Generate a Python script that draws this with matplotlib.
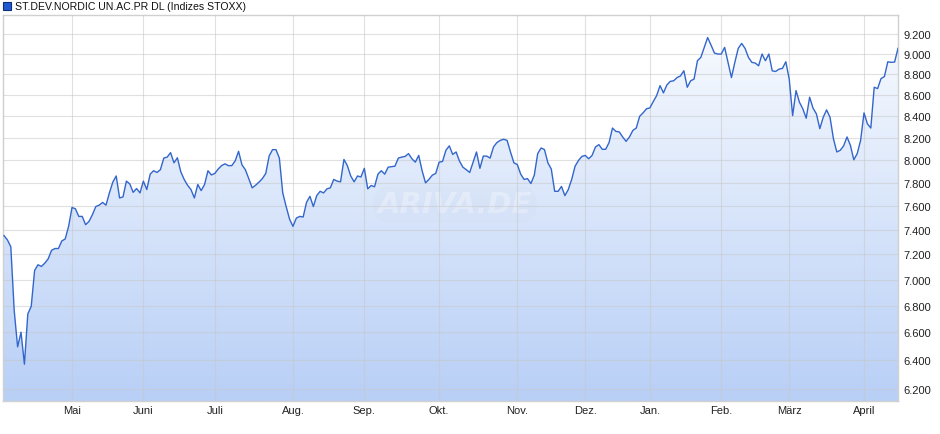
import numpy as np
import pandas as pd
import matplotlib

matplotlib.use("Agg")
import matplotlib.pyplot as plt
from matplotlib.patches import Rectangle
from matplotlib.ticker import FixedLocator, FuncFormatter, NullLocator

title = "ST.DEV.NORDIC UN.AC.PR DL (Indizes STOXX)"
start_date = "2025-04-01"
holidays = [
    "2025-04-18", "2025-04-21", "2025-05-01", "2025-12-24", "2025-12-25",
    "2025-12-26", "2025-12-31", "2026-01-01", "2026-04-03", "2026-04-06",
]
month_labels = ["Mai", "Juni", "Juli", "Aug.", "Sep.", "Okt.", "Nov.", "Dez.",
                "Jan.", "Feb.", "März", "April"]
y_ticks = [6200, 6400, 6600, 6800, 7000, 7200, 7400, 7600, 7800, 8000,
           8200, 8400, 8600, 8800, 9000, 9200]

# daily closing values, one per trading day
values = [
    7352, 7317, 7261, 6763, 6495, 6602, 6371, 6738, 6795, 7072,
    7117, 7104, 7130, 7165, 7233, 7247, 7247, 7308, 7325, 7428,
    7586, 7575, 7511, 7511, 7442, 7469, 7525, 7594, 7606, 7629,
    7606, 7710, 7803, 7857, 7667, 7676, 7812, 7788, 7715, 7748,
    7710, 7812, 7739, 7873, 7903, 7888, 7912, 8015, 8024, 8064,
    7973, 8018, 7894, 7827, 7776, 7739, 7667, 7783, 7730, 7783,
    7903, 7866, 7879, 7918, 7948, 7964, 7948, 7948, 7990, 8076,
    7955, 7912, 7834, 7754, 7776, 7803, 7834, 7879, 8034, 8091,
    8091, 8015, 7710, 7594, 7489, 7428, 7497, 7511, 7506, 7630,
    7681, 7594, 7687, 7724, 7710, 7745, 7754, 7827, 7812, 7806,
    8003, 7948, 7857, 7806, 7857, 7848, 7924, 7745, 7774, 7763,
    7873, 7903, 7873, 7934, 7939, 7943, 8015, 8024, 8030, 8055,
    8009, 7979, 8039, 7903, 7797, 7827, 7864, 7879, 7979, 7985,
    8085, 8125, 8048, 8070, 7988, 7934, 7912, 7888, 7979, 8070,
    7924, 8033, 8033, 8015, 8115, 8155, 8175, 8185, 8175, 8070,
    7973, 7958, 7873, 7827, 7834, 7791, 7864, 8055, 8106, 8091,
    7973, 7918, 7724, 7724, 7766, 7687, 7739, 7827, 7943, 7994,
    8030, 8039, 8009, 8039, 8115, 8136, 8094, 8094, 8155, 8288,
    8257, 8252, 8206, 8166, 8206, 8266, 8288, 8397, 8429, 8467,
    8476, 8536, 8593, 8689, 8619, 8695, 8730, 8736, 8767, 8783,
    8834, 8673, 8736, 8752, 8933, 8967, 9067, 9167, 9090, 9010,
    9000, 9000, 9067, 8917, 8767, 8917, 9057, 9107, 9057, 8967,
    8917, 8910, 8883, 9000, 8933, 9000, 8833, 8827, 8850, 8857,
    8923, 8752, 8403, 8641, 8530, 8467, 8379, 8578, 8474, 8419,
    8282, 8388, 8457, 8388, 8191, 8070, 8085, 8125, 8206, 8130,
    8000, 8055, 8175, 8429, 8327, 8288, 8673, 8660, 8757, 8777,
    8923, 8917, 8920, 9057,
]

trading_days = pd.bdate_range(
    start=start_date, periods=len(values), freq="C", holidays=holidays
)
pos = np.arange(len(values))
month_start = [i for i in range(1, len(pos))
               if trading_days[i].month != trading_days[i - 1].month]

W, H = 940, 435
fig = plt.figure(figsize=(W / 100, H / 100), dpi=100)
ax = fig.add_axes([3 / W, 33 / H, 895 / W, 386 / H])

ax.set_yscale("log")
ax.set_xlim(-0.3, pos[-1])
ax.set_ylim(6115, 9400)

# gradient area under the line
area = ax.fill_between(pos, values, 6000, facecolor="none", edgecolor="none")
grad = np.linspace(0, 1, 256).reshape(-1, 1)
top_c = np.array([0xfa, 0xfc, 0xff]) / 255
bot_c = np.array([0xb8, 0xcf, 0xf6]) / 255
img = top_c + (bot_c - top_c) * grad
shade = ax.imshow(img[:, None, :].repeat(2, axis=1), extent=[0, 1, 0, 1],
                  transform=ax.transAxes, aspect="auto", zorder=1)
shade.set_clip_path(area.get_paths()[0], ax.transData)

ax.plot(pos, values, color="#3366cc", lw=1.0, zorder=4)

ax.yaxis.tick_right()
ax.yaxis.set_major_locator(FixedLocator(y_ticks))
ax.yaxis.set_minor_locator(NullLocator())
ax.yaxis.set_major_formatter(FuncFormatter(lambda v, _: f"{v:,.0f}".replace(",", ".")))
ax.set_xticks(month_start)
ax.set_xticklabels(month_labels[:len(month_start)])
ax.tick_params(axis="both", length=0, labelsize=8, colors="#222222")
ax.tick_params(axis="y", pad=4)
ax.tick_params(axis="x", pad=3)
for lab in ax.get_xticklabels() + ax.get_yticklabels():
    lab.set_family("Liberation Sans")

ax.grid(True, color="#c8c8c8", lw=0.8, alpha=0.55, zorder=3)
ax.set_axisbelow(False)
for s in ax.spines.values():
    s.set_color("#d0d0d0")
    s.set_linewidth(1.0)

ax.text(0.505, 0.51, "ARIVA.DE", transform=ax.transAxes, ha="center",
        va="center", fontsize=21, fontweight="bold", style="italic",
        color="white", alpha=0.3, zorder=2,
        bbox=dict(boxstyle="round,pad=0.15,rounding_size=0.6",
                  facecolor="#c8d4e8", alpha=0.12, edgecolor="none"))

fig.patches.append(Rectangle((3 / W, 1 - 11 / H), 8 / W, 8 / H,
                             transform=fig.transFigure, facecolor="#1f5bd0",
                             edgecolor="#0d2f7a", lw=0.8))
fig.text(15 / W, 1 - 7 / H, title, fontsize=7.6, va="center",
         family="Liberation Sans", color="#111111")

fig.savefig("out.png", dpi=100)
